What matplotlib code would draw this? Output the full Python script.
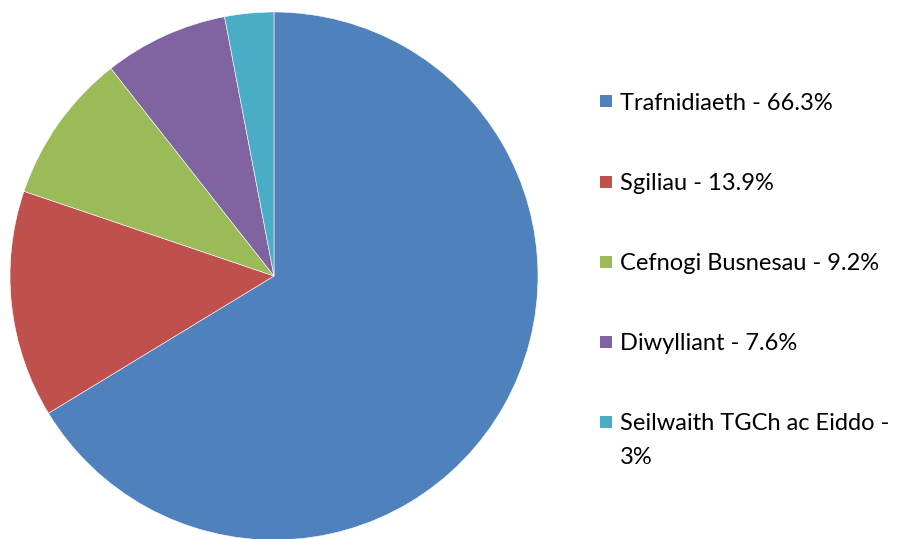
import matplotlib
matplotlib.use("Agg")
import matplotlib.pyplot as plt
from matplotlib.patches import Rectangle

categories = ["Trafnidiaeth", "Sgiliau", "Cefnogi Busnesau", "Diwylliant", "Seilwaith TGCh ac Eiddo"]
values = [66.3, 13.9, 9.2, 7.6, 3.0]
legend_labels = ["Trafnidiaeth - 66.3%", "Sgiliau - 13.9%", "Cefnogi Busnesau - 9.2%",
                 "Diwylliant - 7.6%", "Seilwaith TGCh ac Eiddo -"]
legend_extra = ["", "", "", "", "3%"]
colors = ["#4F81BD", "#C0504D", "#9BBB59", "#8064A2", "#4BACC6"]

W, H = 900, 539
fig = plt.figure(figsize=(W / 100, H / 100), dpi=100)

cx, cy, r = 274, 276, 264
ax = fig.add_axes([(cx - r) / W, (H - cy - r) / H, 2 * r / W, 2 * r / H])
ax.pie(values, colors=colors, startangle=90, counterclock=False, radius=1,
       wedgeprops=dict(edgecolor="white", linewidth=0.4))
ax.set_xlim(-1, 1)
ax.set_ylim(-1, 1)
ax.set_aspect("equal")
ax.axis("off")

ys = [101, 182, 262, 342, 422]
for lab, extra, col, y in zip(legend_labels, legend_extra, colors, ys):
    fig.patches.append(Rectangle((600 / W, 1 - (y + 6) / H), 12 / W, 12 / H,
                                 transform=fig.transFigure, facecolor=col, edgecolor="none"))
    fig.text(620 / W, 1 - y / H, lab, fontsize=17, family="Lato", color="black",
             va="center_baseline", ha="left")
    if extra:
        fig.text(620 / W, 1 - (y + 34) / H, extra, fontsize=17, family="Lato", color="black",
                 va="center_baseline", ha="left")

fig.savefig("out.png", dpi=100)
